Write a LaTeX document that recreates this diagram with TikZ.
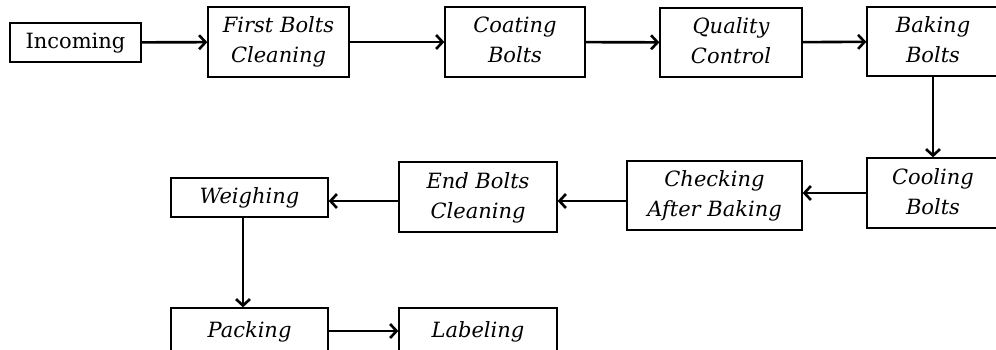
\documentclass[tikz,border=0pt]{standalone}
\usepackage{fontspec}
\setmainfont{DejaVu Serif}
\usepackage{tikz}
\usetikzlibrary{arrows.meta}
\usetikzlibrary{positioning}
\newcommand{\nl}{\\\strut}

\begin{document}
\begin{tikzpicture}[x=1pt,y=-1pt,
  box/.style={draw,line width=1.3pt,align=center,inner sep=0pt,font=\fontsize{21}{30}\selectfont\itshape},
  flow/.style={-{Straight Barb[length=6.5pt,width=14pt]},line width=2.6pt}]
\clip (0,0) rectangle (996,350);
\node[box,font=\fontsize{21}{30}\selectfont,minimum width=131pt,minimum height=39pt] (inc) at (75.5,42.5) {\strut Incoming};
\node[box,minimum width=141pt,minimum height=70pt] (clean1) at (278.5,42) {\strut First Bolts\nl Cleaning};
\node[box,minimum width=140pt,minimum height=70pt] (coat) at (515,42) {\strut Coating\nl Bolts};
\node[box,minimum width=142pt,minimum height=69pt] (qual) at (731,42.5) {\strut Quality\nl Control};
\node[box,minimum width=132pt,minimum height=69pt] (bake) at (933,41.5) {\strut Baking\nl Bolts};
\node[box,minimum width=132pt,minimum height=70pt] (cool) at (933,193) {\strut Cooling\nl Bolts};
\node[box,minimum width=175pt,minimum height=69pt] (check) at (714.5,195.5) {\strut Checking\nl After Baking};
\node[box,minimum width=158pt,minimum height=70pt] (endc) at (478,197) {\strut End Bolts\nl Cleaning};
\node[box,minimum width=157pt,minimum height=39pt] (weigh) at (249.5,197.5) {\strut Weighing};
\node[box,minimum width=157pt,minimum height=46pt] (pack) at (249.5,331) {\strut Packing};
\node[box,minimum width=158pt,minimum height=46pt] (lab) at (478,331) {\strut Labeling};
\draw[flow] (inc) -- (clean1);
\draw[flow] (clean1) -- (coat);
\draw[flow] (coat) -- (qual);
\draw[flow] (qual) -- (bake);
\draw[flow] (bake) -- (cool);
\draw[flow] (cool.west) -- (cool.west -| check.east);
\draw[flow] ([yshift=-5.5pt]check.west) -- ([yshift=-5.5pt]check.west -| endc.east);
\draw[flow] ([yshift=-4pt]endc.west) -- ([yshift=-4pt]endc.west -| weigh.east);
\draw[flow] ([xshift=-6.5pt]weigh.south) -- ([xshift=-6.5pt]weigh.south |- pack.north);
\draw[flow] (pack) -- (lab);
\end{tikzpicture}
\end{document}
